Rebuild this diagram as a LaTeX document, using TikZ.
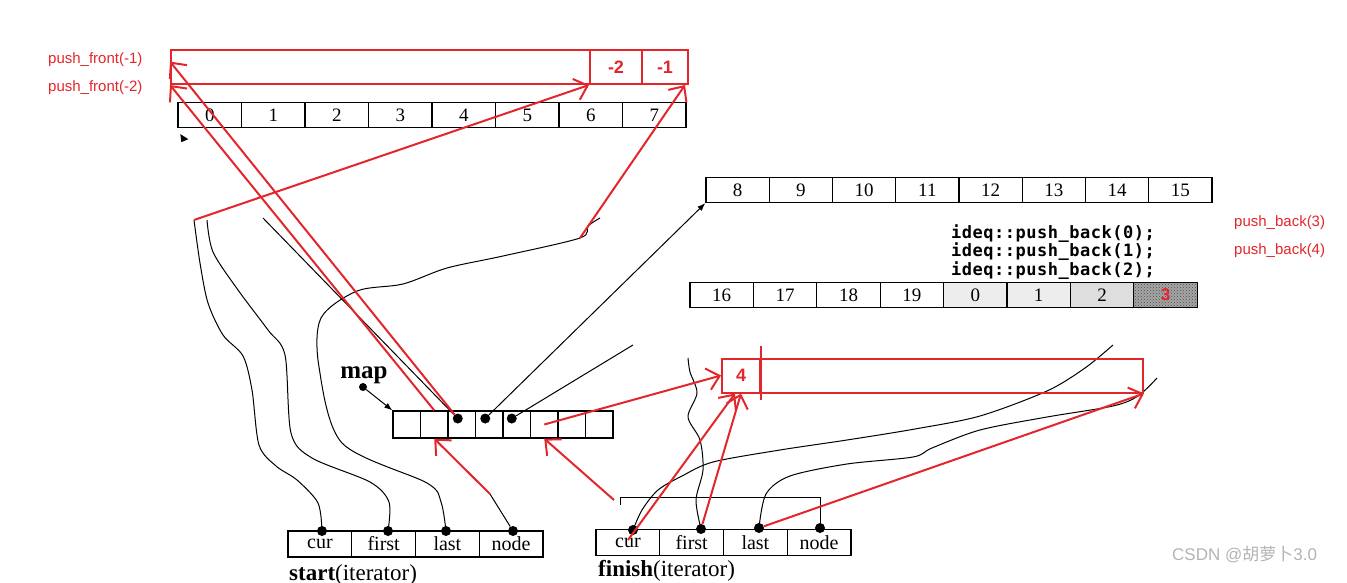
\documentclass[tikz,border=0pt]{standalone}
\usepackage{fontspec}
\setmainfont{Liberation Serif}
\newfontfamily\notefont{Liberation Sans}
\newfontfamily\codefont[LetterSpace=3]{DejaVu Sans Mono}
\newfontfamily\cjkfont{Noto Sans CJK SC}
\usetikzlibrary{arrows.meta,positioning,patterns,calc}
\definecolor{cred}{HTML}{E3262B}
\definecolor{cwm}{HTML}{B4B4B4}
\tikzset{
  cell/.style={draw, line width=1.3pt, minimum height=25pt, inner sep=0pt,
               font=\fontsize{19}{19}\selectfont},
  bufcell/.style={cell, minimum width=63.5pt},
  mapcell/.style={draw, line width=1.3pt, minimum width=27.5pt, minimum height=27pt, inner sep=0pt},
  itcell/.style={cell, minimum width=63.75pt, minimum height=26pt, font=\fontsize{20}{20}\selectfont},
  ptr/.style={circle, fill=black, inner sep=0pt, minimum size=10pt},
  wire/.style={line width=1pt},
  redbox/.style={draw=cred, line width=2pt, inner sep=0pt, minimum height=34pt,
                 text=cred, font=\notefont\bfseries\fontsize{18}{18}\selectfont},
  redflow/.style={draw=cred, line width=2pt, -{Straight Barb[length=12pt, width=22pt]}},
  rednote/.style={text=cred, anchor=west, inner sep=0pt, font=\notefont\fontsize{15}{15}\selectfont},
}
\begin{document}
\begin{tikzpicture}[x=1pt, y=-1pt]
  \useasboundingbox (0,0) rectangle (1347,583);

  % three buffers
  \foreach \v [count=\i from 0] in {0,...,7}
    \node[bufcell] (ba\i) at ({209.75+63.5*\i},115) {\v};
  \foreach \v [count=\i from 0] in {8,...,15}
    \node[bufcell, minimum width=63.25pt] (bb\i) at ({737.6+63.25*\i},190) {\v};
  \foreach \v [count=\i from 0] in {16,...,19}
    \node[bufcell, minimum width=63.4pt] (bc\i) at ({721.7+63.4*\i},295) {\v};
  \node[bufcell, minimum width=63.4pt, fill=black!7] (bc4) at ({721.7+63.4*4},295) {0};
  \node[bufcell, minimum width=63.4pt, fill=black!7] (bc5) at ({721.7+63.4*5},295) {1};
  \node[bufcell, minimum width=63.4pt, fill=black!13] (bc6) at ({721.7+63.4*6},295) {2};
  \node[bufcell, minimum width=63.4pt, fill=black!35, postaction={pattern=crosshatch dots, pattern color=black!70},
        text=cred, font=\notefont\bfseries\fontsize{17}{17}\selectfont] (bc7) at ({721.7+63.4*7},295) {3};
  \fill (ba0.south west) ++(3,6) -- ++(8,5) -- ++(-7,3) -- cycle;

  % code lines
  \node[anchor=north west, align=left, inner sep=0pt,
        font=\codefont\bfseries\fontsize{17}{17.5}\selectfont] (code) at (951,224)
    {ideq::push\_back(0);\\ideq::push\_back(1);\\ideq::push\_back(2);};
  \node[rednote] (pb3) at (1234,223) {push\_back(3)};
  \node[rednote] (pb4) at (1234,251) {push\_back(4)};
  \node[rednote] (pf1) at (48,60) {push\_front(-1)};
  \node[rednote] (pf2) at (48,88) {push\_front(-2)};

  % map
  \foreach \i in {0,...,7}
    \node[mapcell] (m\i) at ({406.75+27.5*\i},424.5) {};
  \node[ptr] (m2d) at ($(m2.center)+(-4,-6)$) {};
  \node[ptr] (m3d) at ($(m3.center)+(-4,-6)$) {};
  \node[ptr] (m4d) at ($(m4.center)+(-5,-6)$) {};
  \node[font=\bfseries\fontsize{25}{25}\selectfont] (maplbl) at (364,375) {map};
  \node[ptr, minimum size=8pt] (mapd) at (363,387) {};
  \draw[wire, -{Latex[length=8pt, width=6pt]}] (mapd) -- (m0.north west);

  % iterators
  \foreach \t [count=\i from 0] in {cur,first,last,node}
    \node[itcell] (s\t) at ({319.9+63.75*\i},544) {\t};
  \foreach \t [count=\i from 0] in {cur,first,last,node}
    \node[itcell] (f\t) at ({627.9+63.75*\i},542.5) {\t};
  \node[anchor=west, inner sep=0pt, font=\fontsize{23}{23}\selectfont] (slbl) at (289,575) {\textbf{start}(iterator)};
  \node[anchor=west, inner sep=0pt, font=\fontsize{23}{23}\selectfont] (flbl) at (598,571) {\textbf{finish}(iterator)};
  \node[ptr] (scurd) at (322,531) {};
  \node[ptr] (sfirstd) at (388,531) {};
  \node[ptr] (slastd) at (446,531) {};
  \node[ptr] (snoded) at (513,531) {};
  \node[ptr] (fcurd) at (633,530) {};
  \node[ptr] (ffirstd) at (701,529) {};
  \node[ptr] (flastd) at (759,528) {};
  \node[ptr] (fnoded) at (820,528) {};

  % free ends of the pointers
  \coordinate (scurtop) at (194,220);
  \coordinate (sfirsttop) at (207,220);
  \coordinate (slasttop) at (580,238);
  \coordinate (m2top) at (263,218);
  \coordinate (m4top) at (633,345);
  \coordinate (sbend) at (490,494);
  \coordinate (fbrk) at (614,500);

  % pointers of start
  \draw[wire] plot[smooth] coordinates {(scurd) (318,503) (297,480) (276,466) (259,445) (252,390)
    (243,356) (223,335) (208,303) (200,263) (scurtop)};
  \draw[wire] plot[smooth] coordinates {(sfirstd) (389,502) (370,482) (312,458) (291,433) (285,355)
    (268,330) (238,290) (213,252) (sfirsttop)};
  \draw[wire] plot[smooth] coordinates {(slastd) (441,502) (427,483) (342,443) (319,367) (321,318)
    (357,291) (403,284) (447,268) (503,256) (slasttop) (588,226) (600,218)};
  \draw[wire] (snoded) -- (sbend);

  % pointers of map
  \draw[wire] (m2d) -- (m2top);
  \draw[wire, -{Latex[length=8pt, width=6pt]}] (m3d) -- (bb0.south west);
  \draw[wire] (m4d) -- (m4top);

  % pointers of finish
  \draw[wire] (fnoded) -- (820,497) -- (620,497) -- (620,505);
  \draw[wire] plot[smooth] coordinates {(fcurd) (642,510) (658,490) (682,476) (713,462) (780,450)
    (847,440) (915,429) (980,416) (1047,391) (1085,368) (1113,345)};
  \draw[wire] plot[smooth] coordinates {(ffirstd) (696,500) (703,470) (700,440) (688,417)
    (697,393) (690,372) (688,358)};
  \draw[wire] plot[smooth] coordinates {(flastd) (766,494) (790,476) (847,464) (913,457) (932,448)
    (980,430) (1047,417) (1113,406) (1138,396) (1157,378)};

  % red buffers
  \node[redbox, minimum width=419pt] (rfront) at (380.5,67) {};
  \node[redbox, minimum width=52pt] (rm2) at (616,67) {-2};
  \node[redbox, minimum width=46pt] (rm1) at (665,67) {-1};
  \node[redbox, minimum width=38pt] (r4) at (741,375.5) {4};
  \node[redbox, minimum width=383pt] (rrest) at (951.5,375.5) {};
  \draw[cred, line width=2pt] (r4.north east) ++(0,-12) -- ++(0,54);

  % red pointers
  \draw[redflow] (m1.north) -- (rfront.south west);
  \draw[redflow] (m2d) -- ($(rfront.north west)!0.35!(rfront.south west)$);
  \draw[redflow] (scurtop) -- (rm2.south west);
  \draw[redflow] (slasttop) -- ($(rm1.south east)+(-4,0)$);
  \draw[redflow] (sbend) -- (m1.south);
  \draw[redflow] (fbrk) -- (m5.south);
  \draw[redflow] (m5.center) -- (r4.west);
  \draw[redflow] ($(fcurd)+(-5,10)$) -- ($(r4.south)+(-6,0)$);
  \draw[redflow] (ffirstd) -- (r4.south);
  \draw[redflow] (flastd) -- (rrest.south east);

  % watermark
  \node[anchor=west, text=cwm, inner sep=0pt, font=\notefont\fontsize{17}{17}\selectfont] (wm) at (1172,555)
    {CSDN @{\cjkfont 胡萝卜}3.0};
\end{tikzpicture}
\end{document}
